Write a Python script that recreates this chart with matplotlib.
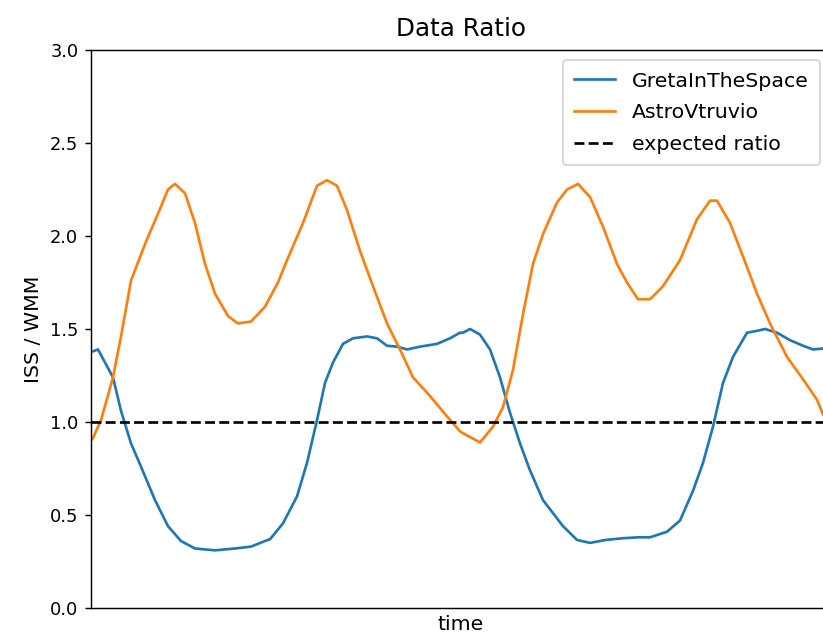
import matplotlib as mpl
mpl.use('Agg')
import matplotlib.pyplot as plt

# values (time is in arbitrary units, 0..739)
greta_t = [2, 7, 14, 22, 30, 40, 50, 64, 77, 90, 104, 124, 144, 160, 174, 179,
           192, 206, 216, 226, 234, 242, 252, 262, 276, 286, 296, 306, 316, 329,
           346, 359, 369, 372, 379, 389, 399, 409, 419, 429, 439, 452, 472, 486,
           499, 515, 532, 547, 559, 576, 589, 602, 612, 622, 632, 642, 656, 666,
           674, 686, 699, 712, 722, 732]
greta_v = [1.38, 1.39, 1.32, 1.24, 1.06, 0.885, 0.76, 0.58, 0.44, 0.36, 0.32,
           0.31, 0.32, 0.33, 0.36, 0.37, 0.455, 0.60, 0.78, 1.01, 1.21, 1.32,
           1.42, 1.45, 1.46, 1.45, 1.41, 1.405, 1.39, 1.405, 1.42, 1.45, 1.48,
           1.48, 1.50, 1.47, 1.39, 1.24, 1.05, 0.885, 0.74, 0.58, 0.44, 0.366,
           0.35, 0.366, 0.375, 0.38, 0.38, 0.41, 0.47, 0.63, 0.78, 0.975, 1.21,
           1.35, 1.48, 1.49, 1.50, 1.48, 1.44, 1.41, 1.39, 1.395]

astro_t = [0, 2, 10, 22, 30, 40, 55, 67, 77, 84, 94, 104, 114, 124, 137, 147,
           160, 174, 187, 196, 212, 226, 236, 246, 256, 269, 282, 296, 309, 322,
           339, 356, 369, 372, 389, 402, 412, 422, 432, 442, 452, 466, 476, 487,
           499, 512, 526, 536, 547, 559, 572, 589, 606, 619, 626, 639, 652, 666,
           679, 696, 712, 726, 732]
astro_v = [0.90, 0.914, 1.01, 1.24, 1.46, 1.76, 1.97, 2.12, 2.25, 2.28, 2.23,
           2.07, 1.85, 1.69, 1.57, 1.53, 1.54, 1.62, 1.75, 1.87, 2.07, 2.27,
           2.30, 2.27, 2.14, 1.92, 1.73, 1.53, 1.39, 1.24, 1.14, 1.03, 0.95,
           0.94, 0.89, 0.975, 1.08, 1.28, 1.58, 1.85, 2.01, 2.18, 2.25, 2.28,
           2.21, 2.05, 1.85, 1.75, 1.66, 1.66, 1.73, 1.87, 2.09, 2.19, 2.19,
           2.07, 1.89, 1.69, 1.53, 1.35, 1.23, 1.12, 1.04]

expected = 1.0

DPI = 128.6
fig = plt.figure(figsize=(823 / DPI, 635 / DPI), dpi=DPI)
# axes runs past the right edge, like the cropped reference
ax = fig.add_axes([91 / 823, 27 / 635, 739 / 823, 558 / 635])

ax.plot(greta_t, greta_v, label='GretaInTheSpace')
ax.plot(astro_t, astro_v, label='AstroVtruvio')
ax.axhline(expected, color='black', linestyle='--', label='expected ratio')

ax.set_xlim(0, 739)
ax.set_ylim(0, 3)
ax.set_xticks([])
ax.spines['right'].set_visible(False)
ax.set_title('Data Ratio', fontsize=13.8, pad=8)
ax.set_ylabel('ISS / WMM', fontsize=11.5)
ax.set_xlabel('time', fontsize=11.5)
ax.legend(loc='upper right', fontsize=11.5, labelspacing=0.62, borderpad=0.55)

plt.savefig('out.png', dpi=DPI)
